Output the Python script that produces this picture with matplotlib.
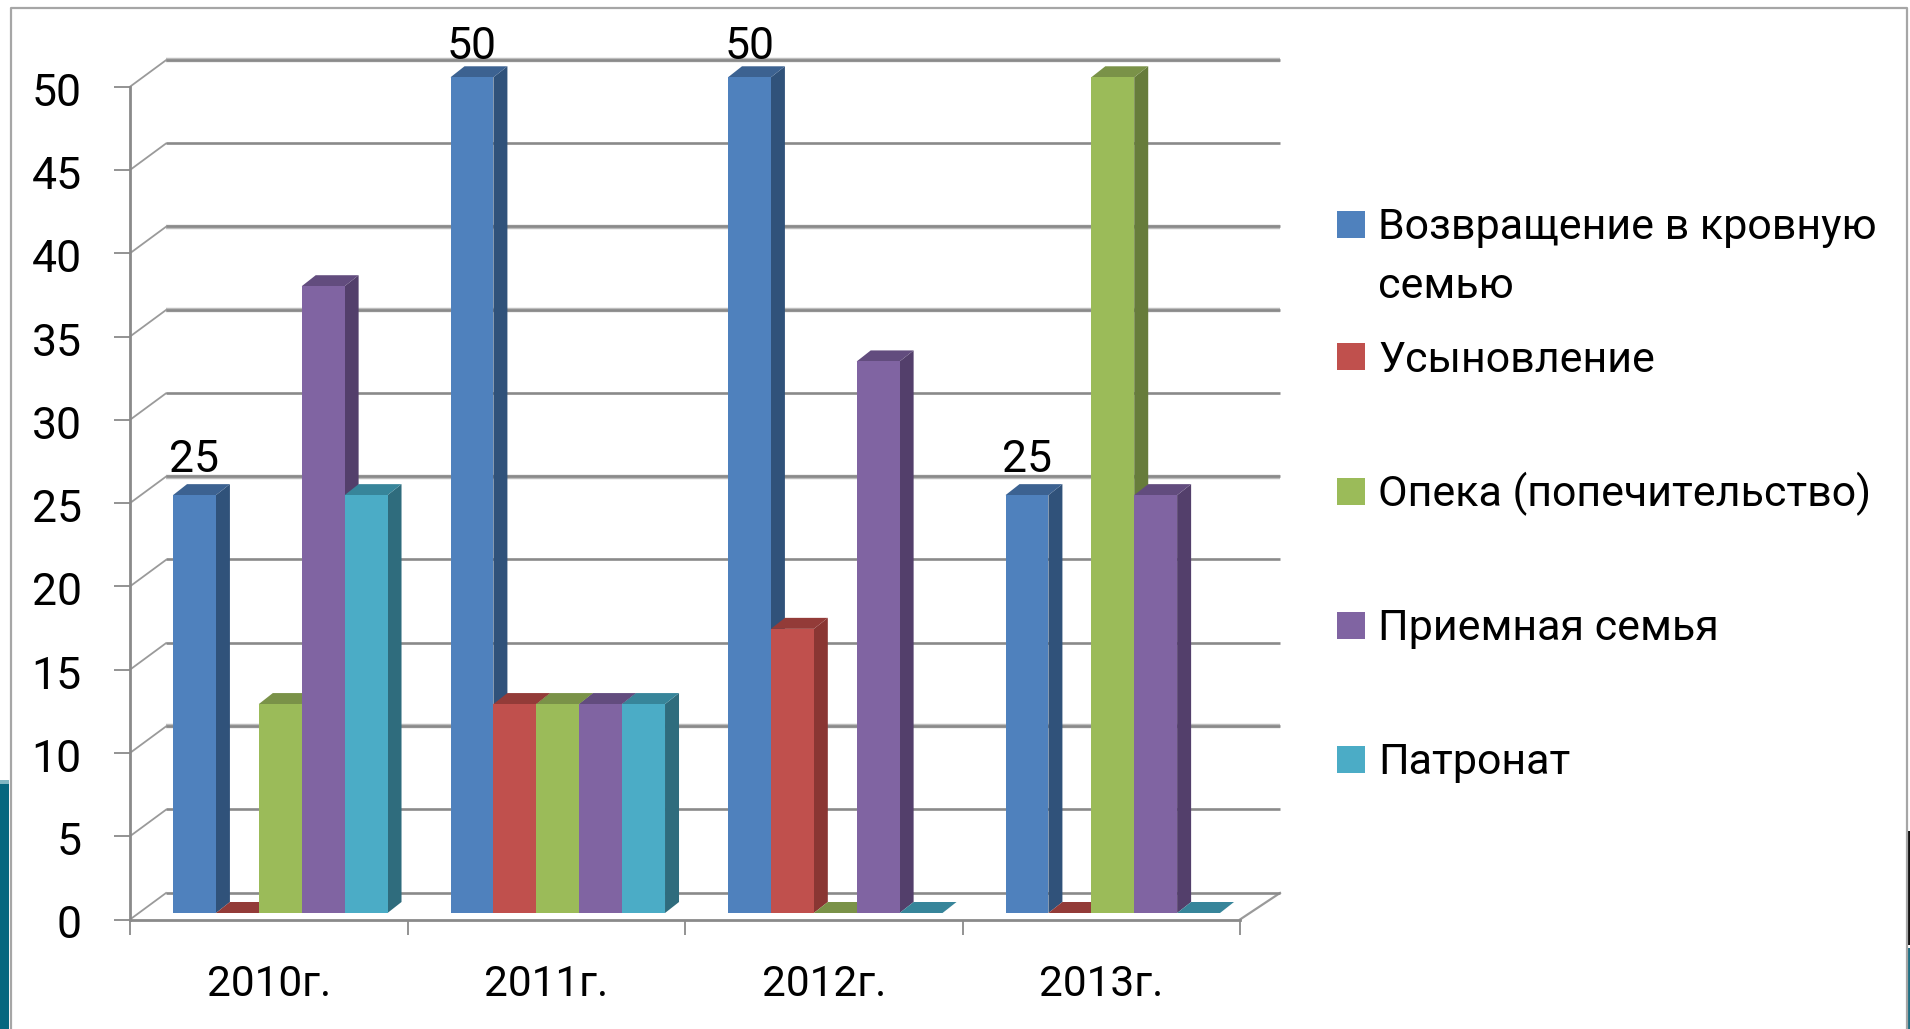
import matplotlib
matplotlib.use("Agg")
import matplotlib.pyplot as plt
from matplotlib.patches import Polygon, Rectangle
from matplotlib.transforms import ScaledTranslation

FIG_W, FIG_H = 1910, 1029

years = ["2010г.", "2011г.", "2012г.", "2013г."]
series_names = [
    "Возвращение в кровную\nсемью",
    "Усыновление",
    "Опека (попечительство)",
    "Приемная семья",
    "Патронат",
]
vozvrat = [25, 50, 50, 25]
usynov = [0, 12.5, 17, 0]
opeka = [12.5, 12.5, 0, 50]
priem = [37.5, 12.5, 33, 25]
patronat = [25, 12.5, 0, 0]
all_series = [vozvrat, usynov, opeka, priem, patronat]
y_ticks = list(range(0, 55, 5))

front = ["#4F81BD", "#C0504D", "#9BBB59", "#8064A2", "#4BACC6"]
side = ["#30527A", "#8A3633", "#677C3B", "#533F6B", "#2F6C7D"]
top = ["#3C6291", "#933B38", "#7A9248", "#624C7E", "#37859A"]
GRID = "#8A8A8A"
GRID_LIGHT = "#BDBDBD"
light_lines = [50, 40, 35, 25, 10]

plt.rcParams["font.family"] = ["Roboto", "DejaVu Sans"]

fig = plt.figure(figsize=(FIG_W / 100, FIG_H / 100), dpi=100, facecolor="white")
# axes = the front plane of the fake 3d box
ax = fig.add_axes([130 / FIG_W, 1 - 919.5 / FIG_H, 1110 / FIG_W, 832.8 / FIG_H])
ax.set_xlim(0, 4)
ax.set_ylim(0, 50)
ax.patch.set_alpha(0)

px_x = 4 / 1110
px_y = 50 / 832.8

# back wall and side wall
back_dx, back_dy = 36 * px_x, 26.5 * px_y
for v in y_ticks:
    if v in light_lines:
        ax.plot([back_dx, 4 + 40 * px_x], [v + back_dy] * 2, color=GRID_LIGHT, lw=3.2,
                clip_on=False, zorder=1, solid_capstyle="butt")
    ax.plot([back_dx, 4 + 40 * px_x], [v + back_dy + 0.03] * 2, color=GRID, lw=1.9,
            clip_on=False, zorder=1.1, solid_capstyle="butt")
    ax.plot([0, back_dx], [v, v + back_dy], color="#9A9A9A", lw=1.3, clip_on=False, zorder=1)
ax.plot([4, 4 + 40 * px_x], [0, back_dy], color="#9A9A9A", lw=1.6, clip_on=False, zorder=1)

# bars
bar_w = 0.1546
start = 0.155
lift = 6.5 * px_y
y_scale = 1.0035
dep_x, dep_y = 14 * px_x, 11 * px_y
label_gap = {25: 35, 50: 30.5}
z = 3
for i in range(len(years)):
    for s, values in enumerate(all_series):
        v = values[i] * y_scale
        x0 = i + start + s * bar_w
        x1 = x0 + bar_w
        ax.bar(x0, v, bar_w, bottom=lift, align="edge", color=front[s], lw=0, clip_on=False, zorder=z + 0.2)
        ax.add_patch(Polygon([(x1, lift), (x1 + dep_x, lift + dep_y), (x1 + dep_x, lift + v + dep_y), (x1, lift + v)],
                             facecolor=side[s], lw=0, clip_on=False, zorder=z))
        ax.add_patch(Polygon([(x0, lift + v), (x0 + dep_x, lift + v + dep_y), (x1 + dep_x, lift + v + dep_y), (x1, lift + v)],
                             facecolor=top[s], lw=0, clip_on=False, zorder=z + 0.1))
        z += 1
    ax.text(i + start + bar_w / 2, vozvrat[i] * y_scale + lift + label_gap[vozvrat[i]] * px_y, str(vozvrat[i]),
            ha="center", va="center", fontsize=32, color="black", zorder=50)

for name in ("top", "right"):
    ax.spines[name].set_visible(False)
for name in ("left", "bottom"):
    ax.spines[name].set_color(GRID)
    ax.spines[name].set_linewidth(2)
    ax.spines[name].set_zorder(2)

ax.set_yticks(y_ticks)
ax.tick_params(axis="y", length=11.7, width=1.3, color=GRID, pad=23, labelsize=32)
# labels sit a little below their ticks in the original
label_shift = ScaledTranslation(0, -2.5 / 100, fig.dpi_scale_trans)
for lab in ax.get_yticklabels():
    lab.set_transform(lab.get_transform() + label_shift)
ax.set_xticks(range(5))
ax.set_xticklabels([])
ax.tick_params(axis="x", which="major", length=11, width=1.3, color=GRID)
ax.set_xticks([i + 0.5 for i in range(4)], minor=True)
ax.set_xticklabels(years, minor=True, fontsize=30.5)
ax.tick_params(axis="x", which="minor", length=0, pad=32)

# legend, placed by hand so the rows fall where they do in the slide
rows_y = [224, 357, 491, 625, 759]
for name, color, y in zip(series_names, front, rows_y):
    fig.add_artist(Rectangle((1337 / FIG_W, 1 - (y + 13.5) / FIG_H), 28 / FIG_W, 27 / FIG_H,
                             transform=fig.transFigure, facecolor=color, lw=0))
    fig.text(1378 / FIG_W, 1 - (y + 15) / FIG_H, name.split("\n")[0], fontsize=31, va="baseline", color="black")
    if "\n" in name:
        fig.text(1378 / FIG_W, 1 - (y + 15 + 59) / FIG_H, name.split("\n")[1], fontsize=31, va="baseline", color="black")

# slide frame and scraps of the slide background
fig.add_artist(plt.Line2D([10.5 / FIG_W, 10.5 / FIG_W, 1907 / FIG_W, 1907 / FIG_W],
                          [0, 1 - 7.5 / FIG_H, 1 - 7.5 / FIG_H, 0], color="#A6A6A6", lw=1.6))
fig.add_artist(Rectangle((0, 0), 9 / FIG_W, 1 - 784 / FIG_H, transform=fig.transFigure,
                         facecolor="#05677F", lw=0))
fig.add_artist(Rectangle((0, 1 - 784 / FIG_H), 9 / FIG_W, 4 / FIG_H, transform=fig.transFigure,
                         facecolor="#7FB6C2", lw=0))
fig.add_artist(Rectangle((1908 / FIG_W, 1 - 945 / FIG_H), 2 / FIG_W, 114 / FIG_H, transform=fig.transFigure,
                         facecolor="#111111", lw=0))
fig.add_artist(Rectangle((1908 / FIG_W, 0), 2 / FIG_W, 1 - 948 / FIG_H, transform=fig.transFigure,
                         facecolor="#1F6F84", lw=0))

fig.savefig("out.png", dpi=100)
